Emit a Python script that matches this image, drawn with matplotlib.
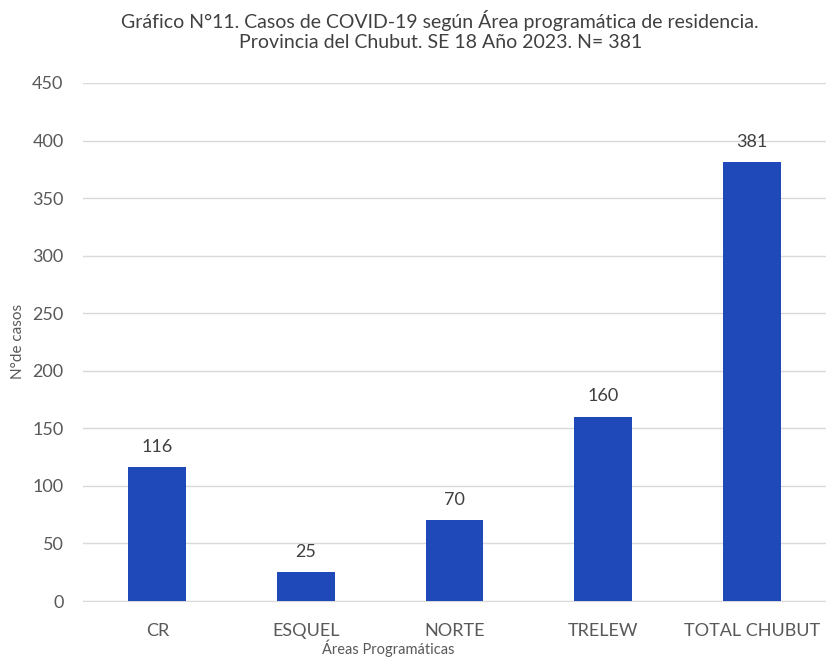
import matplotlib
matplotlib.use("Agg")
import matplotlib.pyplot as plt

categories = ["CR", "ESQUEL", "NORTE", "TRELEW", "TOTAL CHUBUT"]
values = [116, 25, 70, 160, 381]
yticks = [0, 50, 100, 150, 200, 250, 300, 350, 400, 450]

plt.rcParams['font.family'] = ['Lato', 'DejaVu Sans']

fig = plt.figure(figsize=(8.26, 6.57), dpi=100)
ax = fig.add_axes([0.1005, 0.0852, 0.8995, 0.7885])

x = list(range(len(categories)))
bars = ax.bar(x, values, width=0.39, color="#1F48B9", zorder=3)
for xi, v in zip(x, values):
    ax.annotate(str(v), (xi, v), xytext=(0, 9), textcoords="offset points",
                ha="center", va="bottom", fontsize=13, color="#404040")

ax.set_xlim(-0.5, 4.5)
ax.set_ylim(0, 450)
ax.set_yticks(yticks)
ax.set_xticks(x)
ax.set_xticklabels(categories)
ax.grid(axis="y", color="#D9D9D9", linewidth=1, zorder=0)
for s in ["top", "right", "left"]:
    ax.spines[s].set_visible(False)
ax.spines["bottom"].set_color("#D9D9D9")
ax.tick_params(axis="both", length=0, labelsize=13, labelcolor="#595959")
ax.tick_params(axis="x", pad=16)
ax.tick_params(axis="y", pad=14)

fig.text(0.533, 0.985, "Gráfico N°11. Casos de COVID-19 según Área programática de residencia.\nProvincia del Chubut. SE 18 Año 2023. N= 381",
         ha="center", va="top", fontsize=14, color="#404040", linespacing=1.25)
fig.text(0.022, 0.48, "N°de casos", rotation=90, ha="center", va="center", fontsize=11, color="#595959")
fig.text(0.47, 0.013, "Áreas Programáticas", ha="center", va="center", fontsize=10.5, color="#595959")

fig.savefig("out.png", dpi=100)
